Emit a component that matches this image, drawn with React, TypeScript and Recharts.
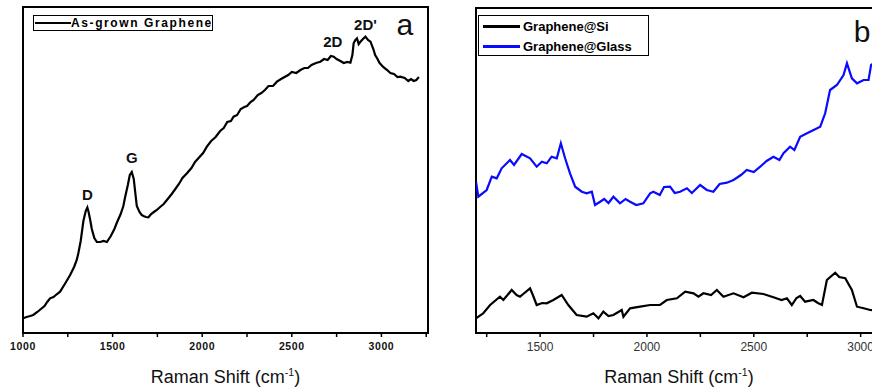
import { LineChart, Line, XAxis, YAxis, ReferenceDot, ReferenceArea } from 'recharts';

const FONT = '"Liberation Sans", Arial, Helvetica, sans-serif';

// panel a: as-grown graphene (intensity in arbitrary units)
const shiftA = [
  1000, 1020, 1040, 1057, 1080, 1100, 1120, 1135, 1151, 1170, 1190, 1207, 1230, 1250, 1263, 1285,
  1300, 1309, 1322, 1337, 1350, 1359, 1366, 1375, 1384, 1398, 1412, 1430, 1450, 1468, 1490, 1510,
  1523, 1545, 1560, 1570, 1585, 1596, 1607, 1618, 1628, 1635, 1650, 1662, 1672, 1686, 1700, 1715,
  1730, 1747, 1765, 1785, 1803, 1830, 1850, 1870, 1890, 1915, 1940, 1960, 1985, 2005, 2026, 2050,
  2075, 2100, 2120, 2140, 2160, 2175, 2195, 2215, 2235, 2250, 2270, 2287, 2310, 2330, 2350, 2370,
  2395, 2417, 2440, 2460, 2480, 2500, 2525, 2548, 2570, 2590, 2610, 2635, 2659, 2680, 2700, 2718,
  2734, 2750, 2771, 2790, 2810, 2827, 2838, 2845, 2855, 2864, 2873, 2883, 2897, 2911, 2925, 2939,
  2955, 2965, 2976, 2990, 3010, 3032, 3050, 3070, 3090, 3106, 3130, 3150, 3165, 3180, 3195, 3209,
];
const asGrown = [
  14.7, 16, 17, 18, 21, 24, 27, 31, 34.7, 36, 39, 41.3, 48, 54, 58, 66,
  73, 80, 92, 112, 122, 125.5, 121, 113, 104, 95, 91, 91, 92, 91, 97, 104,
  110, 119, 127, 136, 148, 158, 161, 154, 138, 127, 121, 118, 117, 116, 115.7, 119,
  121, 123, 126, 129, 133, 139, 144, 149, 155, 159.7, 165, 171, 176, 180, 186.3, 192,
  196, 202, 205, 211, 212, 216.3, 218, 224, 226, 227, 231, 233, 238, 240, 243, 247,
  247, 251.3, 254, 256, 258, 261, 260, 263, 265, 265, 268, 270, 271.3, 274, 273, 277,
  276.3, 274, 272, 270, 271, 270.3, 278, 289.7, 293, 294.7, 289, 291.3, 294, 296.3, 293, 291.3,
  284, 278, 274.7, 270, 266, 263, 260, 259, 256, 256.3, 255, 252, 254, 252, 253, 256,
];

// panel b: graphene on Si and on glass
const shiftSi = [
  1200, 1234, 1266, 1312, 1328, 1367, 1390, 1406, 1421, 1453, 1466, 1484, 1510, 1531, 1562, 1601,
  1632, 1671, 1718, 1749, 1773, 1796, 1820, 1843, 1882, 1890, 1921, 1968, 2015, 2061, 2093, 2140,
  2179, 2218, 2241, 2264, 2300, 2327, 2358, 2405, 2452, 2491, 2545, 2592, 2630, 2655, 2678, 2700,
  2717, 2740, 2779, 2800, 2819, 2842, 2881, 2900, 2928, 2959, 2983, 3014, 3045, 3080, 3100,
];
const grapheneSi = [
  14.7, 19.7, 28, 36.3, 33, 43, 38, 36.3, 39, 44.7, 38, 28, 30, 29.7, 33, 38,
  28, 18, 16.3, 19.7, 14.7, 21.3, 17, 18, 23, 16.3, 24.7, 26.3, 28, 28, 33, 34.7,
  41.3, 39.7, 36.3, 39.7, 38, 43, 36.3, 39.7, 35.7, 40.3, 39, 35.7, 33, 34.7, 28, 35,
  37, 31.3, 33, 30, 28, 53, 60.3, 56, 54.7, 43, 26.3, 24.7, 23, 22, 24,
];
const shiftGlass = [
  1200, 1211, 1250, 1274, 1297, 1320, 1359, 1378, 1414, 1453, 1484, 1508, 1531, 1554, 1578, 1597,
  1617, 1640, 1664, 1695, 1718, 1742, 1757, 1781, 1800, 1820, 1843, 1874, 1900, 1921, 1950, 1983,
  2015, 2030, 2060, 2080, 2108, 2130, 2155, 2187, 2210, 2249, 2280, 2311, 2340, 2374, 2405, 2440,
  2467, 2500, 2530, 2560, 2592, 2620, 2639, 2670, 2690, 2717, 2749, 2780, 2811, 2834, 2857, 2889,
  2920, 2936, 2959, 2983, 3014, 3037, 3049, 3075, 3100,
];
const grapheneGlass = [
  151.3, 136.3, 143, 156.3, 154.7, 164.7, 173, 168, 179, 174.7, 166.3, 171.3, 169.7, 176.3, 174.7, 189.7,
  174.7, 159.7, 146.3, 141.3, 139.7, 141.3, 128, 131.3, 134, 130, 136.3, 129.7, 134, 131.3, 128, 129.7,
  139.7, 141.3, 138, 146, 146.3, 140, 141.3, 144.7, 140, 148, 143, 141.3, 149, 150.3, 153, 158,
  163, 161, 166.3, 172, 176.3, 173, 179.7, 186.3, 183, 196.3, 199.7, 203, 206.3, 219.7, 243, 248,
  258, 269.7, 254.7, 249.7, 253, 253, 268, 272, 270,
];

const ticksA = [1000, 1250, 1500, 1750, 2000, 2250, 2500, 2750, 3000, 3250];
const ticksB = [1250, 1500, 1750, 2000, 2250, 2500, 2750, 3000];

const peaksA = [
  { name: 'D', shift: 1359, level: 133 },
  { name: 'G', shift: 1607, level: 170 },
  { name: '2D', shift: 2729, level: 286 },
  { name: "2D'", shift: 2911, level: 303 },
];

const toRows = (xs: number[], ys: number[]) => xs.map((x, i) => ({ shift: x, value: ys[i] }));

const dataA = toRows(shiftA, asGrown);
const dataSi = toRows(shiftSi, grapheneSi);
const dataGlass = toRows(shiftGlass, grapheneGlass);

function makeTick(bold: boolean) {
  return (props: any) => {
    const { x, y, payload } = props;
    if (payload.value % 500 !== 0) return <g />;
    return (
      <text
        x={x}
        y={y}
        dy={bold ? 11 : 12}
        textAnchor="middle"
        fontFamily={FONT}
        fontSize={bold ? 10.5 : 12}
        fontWeight={bold ? 700 : 400}
        letterSpacing={bold ? 0.6 : 0}
        fill={bold ? '#111' : '#333'}
      >
        {payload.value}
      </text>
    );
  };
}

function AxisTitle(props: any) {
  const vb = props.viewBox || {};
  return (
    <text x={vb.x + vb.width / 2} y={vb.y + 50} textAnchor="middle" fontFamily={FONT} fontSize={18} fill="#111">
      Raman Shift (cm
      <tspan dy={-7} fontSize={10.5}>-1</tspan>
      <tspan dy={7}>)</tspan>
    </text>
  );
}

function PeakLabel(props: any) {
  const vb = props.viewBox || {};
  return (
    <text x={vb.x} y={vb.y} textAnchor="middle" fontFamily={FONT} fontSize={15} fontWeight={700} fill="#111">
      {props.text}
    </text>
  );
}

function PanelLetter(props: any) {
  const vb = props.viewBox || {};
  return (
    <text x={vb.x} y={vb.y} textAnchor="middle" fontFamily={FONT} fontSize={30} fill="#111">
      {props.text}
    </text>
  );
}

function Frame({ domain, yMax, ticks, bold }: { domain: number[]; yMax: number; ticks: number[]; bold: boolean }) {
  return [
    <XAxis
      key="xb"
      xAxisId="b"
      dataKey="shift"
      type="number"
      domain={domain}
      ticks={ticks}
      allowDataOverflow
      interval={0}
      height={55}
      axisLine={{ stroke: '#000', strokeWidth: 2 }}
      tickLine={{ stroke: '#000', strokeWidth: 1.5 }}
      tickSize={4}
      tickMargin={2}
      tick={makeTick(bold)}
      label={{ content: (p: any) => <AxisTitle {...p} /> }}
    />,
    <YAxis key="yl" yAxisId="l" domain={[0, yMax]} allowDataOverflow width={0} tick={false} tickLine={false} axisLine={false} />,
    <ReferenceArea
      key="box"
      xAxisId="b"
      yAxisId="l"
      x1={domain[0]}
      x2={domain[1]}
      y1={0}
      y2={yMax}
      fill="none"
      fillOpacity={0}
      stroke="#000"
      strokeWidth={2}
      strokeOpacity={1}
      ifOverflow="visible"
    />,
  ];
}

const lineProps = { type: 'linear' as const, dataKey: 'value', dot: false, strokeWidth: 2.2, isAnimationActive: false, xAxisId: 'b', yAxisId: 'l' };

export default function App() {
  return (
    <div style={{ position: 'absolute', left: 0, top: 0, width: 872, height: 391, overflow: 'hidden', background: '#fff' }}>
      {/* panel a */}
      <div style={{ position: 'absolute', left: 0, top: 0 }}>
        <LineChart width={440} height={391} margin={{ top: 7, right: 12, bottom: 3, left: 23 }}>
          {Frame({ domain: [1000, 3260], yMax: 326, ticks: ticksA, bold: true })}
          <Line {...lineProps} data={dataA} stroke="#000" />
          {peaksA.map((p) => (
            <ReferenceDot
              key={p.name}
              xAxisId="b"
              yAxisId="l"
              x={p.shift}
              y={p.level}
              r={0}
              stroke="none"
              label={{ content: (lp: any) => <PeakLabel {...lp} text={p.name} /> }}
            />
          ))}
          <ReferenceDot
            xAxisId="b"
            yAxisId="l"
            x={3131}
            y={298}
            r={0}
            stroke="none"
            label={{ content: (lp: any) => <PanelLetter {...lp} text="a" /> }}
          />
        </LineChart>
      </div>

      {/* panel b */}
      <div style={{ position: 'absolute', left: 440, top: 0 }}>
        <LineChart width={460} height={391} margin={{ top: 8, right: 18, bottom: 3, left: 36 }}>
          {Frame({ domain: [1200, 3100], yMax: 325, ticks: ticksB, bold: false })}
          <Line {...lineProps} data={dataSi} stroke="#000" />
          <Line {...lineProps} data={dataGlass} stroke="#0a0aff" />
          <ReferenceDot
            xAxisId="b"
            yAxisId="l"
            x={3007}
            y={291}
            r={0}
            stroke="none"
            label={{ content: (lp: any) => <PanelLetter {...lp} text="b" /> }}
          />
        </LineChart>
      </div>

      {/* legends */}
      <div
        style={{
          position: 'absolute', left: 33, top: 15, width: 178, height: 14, border: '1px solid #000',
          fontFamily: FONT, fontSize: 12, fontWeight: 700, letterSpacing: 1.6, display: 'flex', alignItems: 'center',
          background: '#fff', whiteSpace: 'nowrap', overflow: 'hidden',
        }}
      >
        <span style={{ display: 'inline-block', width: 36, height: 2, background: '#000', marginLeft: 1, flexShrink: 0 }} />
        <span>As-grown Graphene</span>
      </div>
      <div
        style={{
          position: 'absolute', left: 478, top: 15, width: 171, height: 41, border: '1px solid #000',
          fontFamily: FONT, fontSize: 13, fontWeight: 700, background: '#fff', boxSizing: 'border-box',
        }}
      >
        {[
          { name: 'Graphene@Si', color: '#000' },
          { name: 'Graphene@Glass', color: '#0a0aff' },
        ].map((s) => (
          <div key={s.name} style={{ display: 'flex', alignItems: 'center', height: 20 }}>
            <span style={{ display: 'inline-block', width: 37, height: 3, background: s.color, marginLeft: 4, marginRight: 3 }} />
            <span>{s.name}</span>
          </div>
        ))}
      </div>
    </div>
  );
}
